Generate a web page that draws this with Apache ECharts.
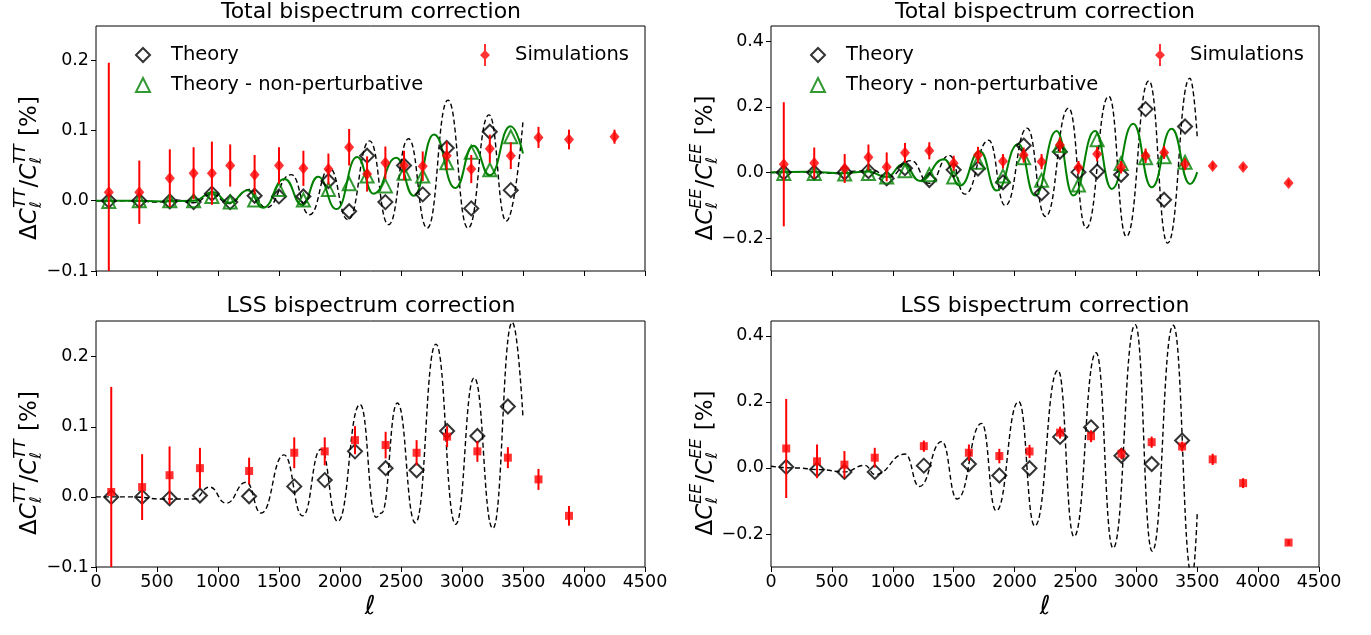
<!DOCTYPE html>
<html><head><meta charset="utf-8">
<script src="https://cdn.jsdelivr.net/npm/echarts@6/dist/echarts.min.js"></script>
<style>html,body{margin:0;padding:0;background:#fff}#c{width:1371px;height:635px}</style>
</head><body><div id="c"></div>
<script>
// ---------------- data ----------------
const xTicks = [0, 500, 1000, 1500, 2000, 2500, 3000, 3500, 4000, 4500];
const yTicksTT = [-0.1, 0.0, 0.1, 0.2];
const yTicksEE = [-0.2, 0.0, 0.2, 0.4];

// Total bispectrum correction: bins
const totEll = [105, 355, 605, 800, 950, 1100, 1300, 1500, 1700, 1905, 2075, 2222, 2372, 2525, 2678, 2875, 3076, 3228, 3400];
const totSimEll = [105, 355, 605, 800, 950, 1100, 1300, 1500, 1700, 1905, 2075, 2222, 2372, 2525, 2678, 2875, 3076, 3228, 3400, 3627, 3877, 4250];

// TT total
const ttTotTheory = [0.000, 0.000, -0.001, -0.002, 0.010, -0.002, 0.007, 0.006, 0.006, 0.028, -0.015, 0.064, -0.002, 0.050, 0.009, 0.075, -0.011, 0.098, 0.015];
const ttTotNonPert = [-0.001, 0.000, 0.000, 0.000, 0.006, -0.002, 0.001, 0.016, 0.001, 0.016, 0.024, 0.035, 0.021, 0.039, 0.035, 0.054, 0.069, 0.044, 0.091];
const ttTotSim = [0.012, 0.012, 0.032, 0.039, 0.039, 0.050, 0.037, 0.050, 0.046, 0.045, 0.076, 0.038, 0.054, 0.050, 0.049, 0.064, 0.045, 0.074, 0.064, 0.090, 0.087, 0.091];
const ttTotSimErr = [0.184, 0.045, 0.041, 0.037, 0.045, 0.030, 0.028, 0.026, 0.025, 0.022, 0.026, 0.025, 0.023, 0.021, 0.021, 0.020, 0.020, 0.020, 0.019, 0.015, 0.014, 0.010];
const ttTotCurveEll = [0, 300, 500, 650, 800, 950, 1090, 1259, 1395, 1600, 1750, 1915, 2065, 2243, 2398, 2562, 2715, 2885, 3049, 3221, 3363, 3500];
const ttTotCurve = [0.000, 0.000, -0.002, 0.001, -0.003, 0.009, -0.004, 0.016, -0.010, 0.037, -0.020, 0.046, -0.027, 0.085, -0.034, 0.088, -0.039, 0.143, -0.039, 0.122, -0.029, 0.113];
const ttTotNPCurveEll = [0, 300, 550, 800, 958, 1095, 1245, 1368, 1546, 1690, 1820, 1972, 2140, 2275, 2462, 2605, 2770, 2945, 3093, 3228, 3398, 3500];
const ttTotNPCurve = [0.000, 0.000, -0.001, 0.000, 0.012, -0.003, 0.015, -0.010, 0.031, -0.006, 0.034, -0.012, 0.062, 0.010, 0.061, 0.007, 0.094, 0.018, 0.078, 0.036, 0.106, 0.067];

// EE total
const eeTotTheory = [0.000, 0.000, 0.000, 0.004, -0.018, 0.013, -0.023, 0.008, 0.012, -0.030, 0.082, -0.063, 0.063, 0.001, 0.003, -0.007, 0.193, -0.083, 0.140];
const eeTotNonPert = [-0.003, -0.003, -0.005, -0.003, -0.014, 0.005, -0.007, -0.014, 0.031, -0.011, 0.045, -0.024, 0.082, -0.038, 0.100, 0.027, 0.045, 0.048, 0.031];
const eeTotSim = [0.025, 0.029, 0.012, 0.046, 0.017, 0.060, 0.066, 0.028, 0.053, 0.034, 0.053, 0.033, 0.084, 0.015, 0.056, 0.016, 0.051, 0.061, 0.025, 0.020, 0.017, -0.032];
const eeTotSimErr = [0.189, 0.047, 0.044, 0.039, 0.044, 0.030, 0.026, 0.023, 0.025, 0.022, 0.023, 0.023, 0.023, 0.020, 0.022, 0.019, 0.022, 0.020, 0.018, 0.010, 0.008, 0.008];
const eeTotCurveEll = [0, 300, 550, 700, 830, 960, 1150, 1300, 1465, 1591, 1788, 1923, 2103, 2254, 2444, 2588, 2774, 2918, 3103, 3257, 3440, 3500];
const eeTotCurve = [0.000, 0.002, -0.003, 0.004, 0.008, -0.015, 0.036, -0.033, 0.052, -0.066, 0.098, -0.101, 0.135, -0.134, 0.196, -0.169, 0.232, -0.195, 0.279, -0.215, 0.287, 0.108];
const eeTotNPCurveEll = [0, 300, 600, 800, 950, 1087, 1224, 1420, 1552, 1716, 1853, 2031, 2168, 2346, 2482, 2661, 2798, 2975, 3126, 3290, 3441, 3500];
const eeTotNPCurve = [0.000, 0.002, -0.002, 0.003, -0.014, 0.026, -0.026, 0.040, -0.040, 0.065, -0.055, 0.087, -0.070, 0.126, -0.070, 0.126, -0.050, 0.148, -0.045, 0.133, -0.035, 0.001];

// LSS bispectrum correction: bins
const lssEll = [125, 378, 603, 852, 1255, 1625, 1875, 2123, 2374, 2628, 2878, 3126, 3376];
const ttLssSimEll = [125, 378, 603, 852, 1255, 1625, 1875, 2123, 2374, 2628, 2878, 3126, 3376, 3627, 3877];
const eeLssSimEll = [125, 378, 603, 852, 1255, 1625, 1875, 2123, 2374, 2628, 2878, 3126, 3376, 3627, 3877, 4250];

// TT LSS
const ttLssTheory = [0.000, 0.000, -0.002, 0.002, 0.001, 0.015, 0.024, 0.065, 0.041, 0.038, 0.094, 0.087, 0.129];
const ttLssSim = [0.007, 0.014, 0.031, 0.041, 0.037, 0.063, 0.065, 0.081, 0.074, 0.063, 0.086, 0.065, 0.056, 0.025, -0.027];
const ttLssSimErr = [0.150, 0.047, 0.041, 0.029, 0.019, 0.022, 0.020, 0.020, 0.019, 0.018, 0.015, 0.015, 0.015, 0.015, 0.014];
const ttLssCurveEll = [0, 300, 550, 700, 800, 931, 1067, 1231, 1354, 1541, 1694, 1843, 1982, 2165, 2296, 2340, 2470, 2618, 2786, 2948, 3100, 3253, 3412, 3500];
const ttLssCurve = [0.000, 0.000, -0.003, -0.003, -0.003, 0.014, -0.009, 0.021, -0.023, 0.060, -0.027, 0.068, -0.035, 0.132, -0.029, -0.023, 0.134, -0.037, 0.218, -0.039, 0.170, -0.045, 0.249, 0.113];

// EE LSS
const eeLssTheory = [0.003, -0.005, -0.012, -0.012, 0.007, 0.012, -0.023, -0.001, 0.094, 0.123, 0.037, 0.012, 0.083];
const eeLssSim = [0.059, 0.020, 0.010, 0.031, 0.066, 0.046, 0.036, 0.050, 0.107, 0.096, 0.043, 0.078, 0.065, 0.026, -0.046, -0.226];
const eeLssSimErr = [0.150, 0.051, 0.041, 0.030, 0.017, 0.025, 0.022, 0.020, 0.018, 0.018, 0.017, 0.017, 0.015, 0.017, 0.015, 0.008];
const eeLssCurveEll = [0, 200, 400, 600, 770, 854, 1102, 1218, 1403, 1528, 1730, 1849, 2034, 2166, 2357, 2488, 2670, 2809, 2991, 3130, 3303, 3458, 3500];
const eeLssCurve = [0.005, 0.000, -0.005, -0.012, 0.008, -0.020, 0.042, -0.056, 0.080, -0.094, 0.135, -0.130, 0.201, -0.176, 0.296, -0.208, 0.349, -0.243, 0.434, -0.252, 0.432, -0.330, -0.139];

// ---------------- chart ----------------
const FONT = '"DejaVu Sans", sans-serif';
const RED = '#ff0000', GREEN = '#008000';
const TICK_FS = 17.5;
const zip = (a, b) => a.map((v, i) => [v, b[i]]);
const zip3 = (a, b, c) => a.map((v, i) => [v, b[i], c[i]]);
const fmt = v => v.toFixed(1).replace('-', '\u2212');

const grids = [
  {left: 96, top: 26, width: 549, height: 245},
  {left: 771, top: 26, width: 548, height: 245},
  {left: 96, top: 321, width: 549, height: 246},
  {left: 771, top: 321, width: 548, height: 246}
];
const yRanges = [[-0.1, 0.2484, yTicksTT], [-0.3, 0.446, yTicksEE], [-0.1, 0.251, yTicksTT], [-0.3, 0.445, yTicksEE]];

const xAxes = grids.map((g, i) => ({
  gridIndex: i, type: 'value', min: 0, max: 4500, position: 'bottom',
  axisLine: {show: false, onZero: false}, splitLine: {show: false},
  axisTick: {show: true, length: 5, customValues: xTicks, lineStyle: {color: '#000', width: 1}},
  axisLabel: {show: i >= 2, customValues: xTicks, formatter: v => String(v), fontSize: TICK_FS, color: '#000', margin: 6, fontFamily: FONT}
}));
const yAxes = grids.map((g, i) => ({
  gridIndex: i, type: 'value', min: yRanges[i][0], max: yRanges[i][1], position: 'left',
  axisLine: {show: false, onZero: false}, splitLine: {show: false},
  axisTick: {show: true, length: 5, customValues: yRanges[i][2], lineStyle: {color: '#000', width: 1}},
  axisLabel: {customValues: yRanges[i][2], formatter: fmt, fontSize: TICK_FS, color: '#000', margin: 7, fontFamily: FONT}
}));

function errSeries(i, data) {
  return {
    type: 'custom', name: 'err' + i, xAxisIndex: i, yAxisIndex: i, clip: true, z: 5, silent: true,
    data: data, encode: {x: 0, y: 1},
    renderItem: (params, api) => {
      const x = api.value(0), y = api.value(1), e = api.value(2);
      const p1 = api.coord([x, y - e]), p2 = api.coord([x, y + e]);
      return {type: 'line', shape: {x1: p1[0], y1: p1[1], x2: p2[0], y2: p2[1]},
        style: {stroke: RED, lineWidth: 2}};
    }
  };
}
function curve(i, name, data, color, dashed) {
  return {type: 'line', name: name, xAxisIndex: i, yAxisIndex: i, data: data, showSymbol: false,
    smooth: 0.5, smoothMonotone: 'x', silent: true, z: dashed ? 2 : 3, animation: false,
    lineStyle: {color: color, width: dashed ? 1.4 : 2, type: dashed ? [5, 3] : 'solid'}};
}
function theoryScatter(i, data) {
  return {type: 'scatter', name: 'Theory', xAxisIndex: i, yAxisIndex: i, data: data, symbol: 'diamond',
    symbolSize: 14, z: 4, itemStyle: {color: 'rgba(0,0,0,0)', borderColor: '#000', borderWidth: 2}};
}
function npScatter(i, data) {
  return {type: 'scatter', name: 'Theory - non-perturbative', xAxisIndex: i, yAxisIndex: i, data: data,
    symbol: 'triangle', symbolSize: 13, z: 4, itemStyle: {color: 'rgba(0,0,0,0)', borderColor: GREEN, borderWidth: 2}};
}
function simScatter(i, data, sym) {
  return {type: 'scatter', name: 'Simulations', xAxisIndex: i, yAxisIndex: i, data: data,
    symbol: sym, symbolSize: sym === 'rect' ? 8 : [10, 12], z: 6, itemStyle: {color: RED}};
}

const series = [
  curve(0, 'c0', zip(ttTotCurveEll, ttTotCurve), '#000', true),
  curve(0, 'g0', zip(ttTotNPCurveEll, ttTotNPCurve), GREEN, false),
  theoryScatter(0, zip(totEll, ttTotTheory)),
  npScatter(0, zip(totEll, ttTotNonPert)),
  errSeries(0, zip3(totSimEll, ttTotSim, ttTotSimErr)),
  simScatter(0, zip(totSimEll, ttTotSim), 'diamond'),

  curve(1, 'c1', zip(eeTotCurveEll, eeTotCurve), '#000', true),
  curve(1, 'g1', zip(eeTotNPCurveEll, eeTotNPCurve), GREEN, false),
  theoryScatter(1, zip(totEll, eeTotTheory)),
  npScatter(1, zip(totEll, eeTotNonPert)),
  errSeries(1, zip3(totSimEll, eeTotSim, eeTotSimErr)),
  simScatter(1, zip(totSimEll, eeTotSim), 'diamond'),

  curve(2, 'c2', zip(ttLssCurveEll, ttLssCurve), '#000', true),
  theoryScatter(2, zip(lssEll, ttLssTheory)),
  errSeries(2, zip3(ttLssSimEll, ttLssSim, ttLssSimErr)),
  simScatter(2, zip(ttLssSimEll, ttLssSim), 'rect'),

  curve(3, 'c3', zip(eeLssCurveEll, eeLssCurve), '#000', true),
  theoryScatter(3, zip(lssEll, eeLssTheory)),
  errSeries(3, zip3(eeLssSimEll, eeLssSim, eeLssSimErr)),
  simScatter(3, zip(eeLssSimEll, eeLssSim), 'rect')
];

const simIcon = 'path://M4,0 L6,0 L6,22 L4,22 Z M5,6 L10,11 L5,16 L0,11 Z';
function legends(dx) {
  const ts = {fontSize: 19.5, color: '#000', fontFamily: FONT, lineHeight: 20, padding: [0, 0, 0, 16]};
  return [
    {left: 130 + dx, top: 40, orient: 'vertical', itemWidth: 14, itemHeight: 14, itemGap: 10,
      selectedMode: false, textStyle: ts,
      data: [
        {name: 'Theory', icon: 'diamond', itemStyle: {color: 'rgba(0,0,0,0)', borderColor: '#000', borderWidth: 2}},
        {name: 'Theory - non-perturbative', icon: 'triangle', itemStyle: {color: 'rgba(0,0,0,0)', borderColor: GREEN, borderWidth: 2}}
      ]},
    {left: 475 + dx, top: 39, itemWidth: 10, itemHeight: 22, selectedMode: false,
      textStyle: Object.assign({}, ts, {padding: [0, 0, 0, 20]}),
      data: [{name: 'Simulations', icon: simIcon, itemStyle: {color: RED, borderWidth: 0}}]}
  ];
}

// y-axis label built from text pieces (sub/superscripts stacked)
const mctx = document.createElement('canvas').getContext('2d');
function tw(t, font) { mctx.font = font; return mctx.measureText(t).width; }
function yLabel(cx, cy, ss) {
  const big = '23px ' + FONT, bigI = 'italic 23px ' + FONT, sm = 'italic 16px ' + FONT;
  const parts = [
    {t: '\u0394', f: big}, {t: 'C', f: bigI}, {sup: ss, sub: '\u2113'},
    {t: '/', f: big}, {t: 'C', f: bigI}, {sup: ss, sub: '\u2113'}, {t: ' [%]', f: big}
  ];
  let w = 0;
  parts.forEach(p => {
    p.w = p.sup ? Math.max(tw(p.sup, sm), tw(p.sub, sm)) + 1 : tw(p.t, p.f);
    w += p.w;
  });
  let x = -w / 2;
  const children = [];
  parts.forEach(p => {
    if (p.sup) {
      children.push({type: 'text', x: x, y: -9, style: {text: p.sup, font: sm, fill: '#000', textAlign: 'left', textVerticalAlign: 'middle'}});
      children.push({type: 'text', x: x, y: 7, style: {text: p.sub, font: sm, fill: '#000', textAlign: 'left', textVerticalAlign: 'middle'}});
    } else {
      children.push({type: 'text', x: x, y: 0, style: {text: p.t, font: p.f, fill: '#000', textAlign: 'left', textVerticalAlign: 'middle'}});
    }
    x += p.w;
  });
  return {type: 'group', x: cx, y: cy, rotation: Math.PI / 2, children: children};
}
function txt(x, y, text, font) {
  return {type: 'text', x: x, y: y, style: {text: text, font: font, fill: '#000', textAlign: 'center', textVerticalAlign: 'middle'}};
}

const graphics = [
  txt(371, 12, 'Total bispectrum correction', '22px ' + FONT),
  txt(1045, 12, 'Total bispectrum correction', '22px ' + FONT),
  txt(371, 306, 'LSS bispectrum correction', '22px ' + FONT),
  txt(1045, 306, 'LSS bispectrum correction', '22px ' + FONT),
  txt(370, 607, '\u2113', 'italic 26px ' + FONT),
  txt(1045, 607, '\u2113', 'italic 26px ' + FONT),
  yLabel(30, 168, 'TT'),
  yLabel(30, 463, 'TT'),
  yLabel(706, 168, 'EE'),
  yLabel(706, 463, 'EE')
];

const chart = echarts.init(document.getElementById('c'), null, {renderer: 'canvas'});
chart.setOption({
  animation: false,
  backgroundColor: '#fff',
  textStyle: {fontFamily: FONT},
  grid: grids.map(g => Object.assign({show: true, borderColor: '#000', borderWidth: 1, backgroundColor: 'transparent'}, g)),
  xAxis: xAxes,
  yAxis: yAxes,
  legend: legends(0).concat(legends(675)),
  series: series,
  graphic: graphics
});
</script></body></html>
